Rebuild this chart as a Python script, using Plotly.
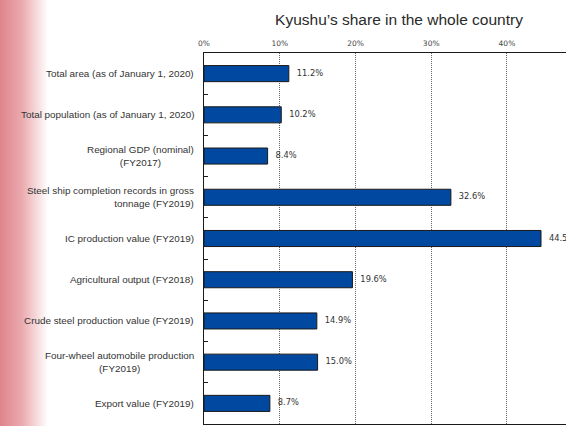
import base64
import plotly.graph_objects as go

categories = [
    "Total area (as of January 1, 2020)",
    "Total population (as of January 1, 2020)",
    "Regional GDP (nominal)<br>(FY2017)",
    "Steel ship completion records in gross<br>tonnage (FY2019)",
    "IC production value (FY2019)",
    "Agricultural output (FY2018)",
    "Crude steel production value (FY2019)",
    "Four-wheel automobile production<br>(FY2019)",
    "Export value (FY2019)",
]
shares = [11.2, 10.2, 8.4, 32.6, 44.5, 19.6, 14.9, 15.0, 8.7]
label_align = ["right", "right", "center", "right", "right", "right", "right", "center", "right"]
tick_vals = [0, 10, 20, 30, 40]
tick_text = ["0%", "10%", "20%", "30%", "40%"]
title_text = "Kyushu\u2019s share in the whole country"

W, H = 566, 426
L, T, B = 204, 53, 2
pw, ph = W - L, H - T - B

fig = go.Figure()
fig.add_trace(go.Bar(
    x=shares, y=categories, orientation="h", width=0.39,
    marker=dict(color="#0048a0", line=dict(color="#1a1a1a", width=1)),
    hoverinfo="skip",
))
fig.add_trace(go.Scatter(
    x=shares, y=categories, mode="text",
    text=[f"   {v:.1f}%" for v in shares],
    textposition="middle right",
    textfont=dict(family="DejaVu Sans, Verdana, sans-serif", size=8.3, color="#333333"),
    cliponaxis=False, hoverinfo="skip",
))

for cat, al in zip(categories, label_align):
    fig.add_annotation(
        x=0, xref="paper", y=cat, yref="y", xanchor="right", yanchor="middle",
        xshift=-8, text=cat, align=al, showarrow=False,
        font=dict(family="Liberation Sans Narrow, Arial Narrow, Liberation Sans, sans-serif",
                  size=9.9, color="#333333"),
    )

svg = ("<svg xmlns='http://www.w3.org/2000/svg' width='50' height='426' viewBox='0 0 50 426' "
       "preserveAspectRatio='none'><defs><linearGradient id='g' x1='0' x2='1' y1='0' y2='0'>"
       "<stop offset='0' stop-color='#de848b'/><stop offset='0.45' stop-color='#eaa9ae'/>"
       "<stop offset='1' stop-color='#ffffff'/></linearGradient></defs>"
       "<rect width='50' height='426' fill='url(#g)'/></svg>")
src = "data:image/svg+xml;base64," + base64.b64encode(svg.encode()).decode()
fig.add_layout_image(dict(
    source=src, xref="paper", yref="paper", x=-L / pw, y=1 + T / ph,
    sizex=48 / pw, sizey=H / ph, xanchor="left", yanchor="top",
    sizing="stretch", layer="below",
))

fig.update_layout(
    width=W, height=H,
    margin=dict(l=L, r=0, t=T, b=B, pad=0),
    plot_bgcolor="white", paper_bgcolor="white",
    showlegend=False,
    title=dict(text=title_text, x=399 / W, xanchor="center", y=1 - 20 / H, yanchor="middle",
               xref="container", yref="container",
               font=dict(family="Liberation Sans, Arial, sans-serif", size=15.5, color="#2a2a2a")),
    xaxis=dict(
        side="top", range=[0, 47.8], tickvals=tick_vals, ticktext=tick_text,
        showgrid=True, gridcolor="#666666", griddash="1px,1px", gridwidth=1,
        zeroline=False, showline=True, linecolor="#1a1a1a", linewidth=1, mirror=True,
        ticks="", tickfont=dict(family="DejaVu Sans, Verdana, sans-serif", size=7.5, color="#444444"),
        ticklabelstandoff=3, fixedrange=True, automargin=False,
    ),
    yaxis=dict(
        type="category", autorange="reversed", showticklabels=False,
        showline=True, linecolor="#1a1a1a", linewidth=1,
        ticks="inside", ticklen=4, tickcolor="#1a1a1a", tickson="boundaries",
        showgrid=False, zeroline=False, fixedrange=True, automargin=False,
    ),
)

fig.write_html("out.html", config={"displayModeBar": False},
               post_script="document.body.style.margin='0';document.body.style.overflow='hidden';")
